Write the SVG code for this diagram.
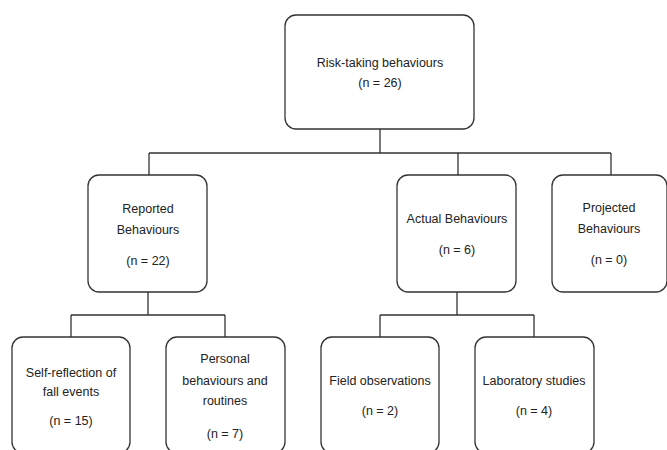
<svg xmlns="http://www.w3.org/2000/svg" width="667" height="450" viewBox="0 0 667 450">
<style>
.box{fill:#fff;stroke:#333;stroke-width:1.3}
.ln{fill:none;stroke:#333;stroke-width:1.3}
text{font-family:"Liberation Sans",Arial,sans-serif;font-size:12.5px;fill:#222;text-anchor:middle}
</style>
<rect width="667" height="450" fill="#fff"/>
<g id="connectors">
<path class="ln" d="M380 129V153M149 153H611M149 153V175M458 153V175M611 153V175"/>
<path class="ln" d="M148 292V315M71 315H225M71 315V337M225 315V337"/>
<path class="ln" d="M457 292V315M380 315H534M380 315V337M534 315V337"/>
</g>
<g id="root">
<rect class="box" x="285" y="15" width="189" height="114" rx="11"/>
<text x="380" y="67">Risk-taking behaviours</text>
<text x="380" y="87">(n = 26)</text>
</g>
<g id="reported">
<rect class="box" x="88" y="175" width="119" height="117" rx="11"/>
<text x="148" y="213">Reported</text>
<text x="148" y="234">Behaviours</text>
<text x="148" y="265">(n = 22)</text>
</g>
<g id="actual">
<rect class="box" x="397" y="175" width="119" height="117" rx="11"/>
<text x="457" y="223">Actual Behaviours</text>
<text x="457" y="254">(n = 6)</text>
</g>
<g id="projected">
<rect class="box" x="552" y="175" width="115" height="117" rx="11"/>
<text x="609" y="212">Projected</text>
<text x="609" y="233">Behaviours</text>
<text x="609" y="264">(n = 0)</text>
</g>
<g id="self-reflection">
<rect class="box" x="12" y="337" width="118" height="116" rx="11"/>
<text x="71" y="377">Self-reflection of</text>
<text x="71" y="396">fall events</text>
<text x="71" y="425">(n = 15)</text>
</g>
<g id="personal">
<rect class="box" x="166" y="337" width="119" height="116" rx="11"/>
<text x="225" y="363">Personal</text>
<text x="225" y="385">behaviours and</text>
<text x="225" y="405">routines</text>
<text x="225" y="438">(n = 7)</text>
</g>
<g id="field">
<rect class="box" x="321" y="337" width="118" height="116" rx="11"/>
<text x="380" y="385">Field observations</text>
<text x="380" y="415">(n = 2)</text>
</g>
<g id="laboratory">
<rect class="box" x="475" y="337" width="119" height="116" rx="11"/>
<text x="534" y="385">Laboratory studies</text>
<text x="534" y="415">(n = 4)</text>
</g>
</svg>
